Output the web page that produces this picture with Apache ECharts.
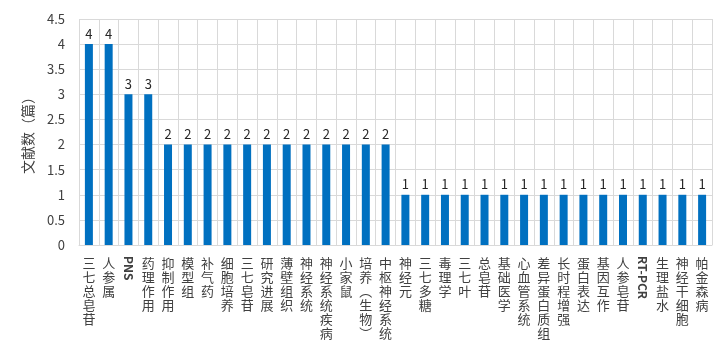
<!DOCTYPE html>
<html><head><meta charset="utf-8">
<script src="https://cdn.jsdelivr.net/npm/echarts@6/dist/echarts.min.js"></script>
<style>html,body{margin:0;padding:0;background:#fff}#c{width:722px;height:354px}</style>
</head><body><div id="c"></div>
<script>
const categories = ['三七总皂苷','人参属','PNS','药理作用','抑制作用','模型组','补气药','细胞培养','三七皂苷','研究进展','薄壁组织','神经系统','神经系统疾病','小家鼠','培养（生物）','中枢神经系统','神经元','三七多糖','毒理学','三七叶','总皂苷','基础医学','心血管系统','差异蛋白质组','长时程增强','蛋白表达','基因互作','人参皂苷','RT-PCR','生理盐水','神经干细胞','帕金森病'];
const counts = [4,4,3,3,2,2,2,2,2,2,2,2,2,2,2,2,1,1,1,1,1,1,1,1,1,1,1,1,1,1,1,1];
const yTitle = '文献数（篇）';

const isLatin = s => /^[A-Za-z0-9\-]+$/.test(s);
const font = '"Noto Sans CJK SC", "Noto Sans", sans-serif';
const chart = echarts.init(document.getElementById('c'));
chart.setOption({
  animation: false,
  grid: {left: 79, right: 10, top: 19, bottom: 109},
  xAxis: [{
    type: 'category', data: categories,
    axisLine: {lineStyle: {color: '#d9d9d9'}},
    axisTick: {show: false},
    splitLine: {show: true, interval: 0, lineStyle: {color: '#d9d9d9'}},
    axisLabel: {
      interval: 0, margin: 11, fontSize: 13, lineHeight: 14, color: '#404040', fontFamily: font,
      verticalAlign: 'top',
      formatter: v => isLatin(v) ? '' : v.replace('（','︵').replace('）','︶').split('').join('\n')
    }
  }, {
    type: 'category', data: categories, position: 'bottom',
    axisLine: {show: false}, axisTick: {show: false}, splitLine: {show: false},
    axisLabel: {
      interval: 0, margin: 11, rotate: -90, fontSize: 12, fontWeight: 'bold', color: '#404040', fontFamily: font,
      formatter: v => isLatin(v) ? v : ''
    }
  }],
  yAxis: {
    type: 'value', min: 0, max: 4.5, interval: 0.5,
    name: yTitle, nameLocation: 'middle', nameGap: 44,
    nameTextStyle: {fontSize: 14, color: '#404040', fontFamily: font},
    axisLine: {show: false}, axisTick: {show: false},
    splitLine: {lineStyle: {color: '#d9d9d9'}},
    axisLabel: {fontSize: 13, color: '#404040', margin: 14, fontFamily: font}
  },
  series: [{
    type: 'bar', data: counts, barWidth: 8, xAxisIndex: 0,
    itemStyle: {color: '#0070c0'},
    label: {show: true, position: 'top', fontSize: 13, color: '#262626', distance: 4, fontFamily: font}
  }]
});
</script></body></html>
